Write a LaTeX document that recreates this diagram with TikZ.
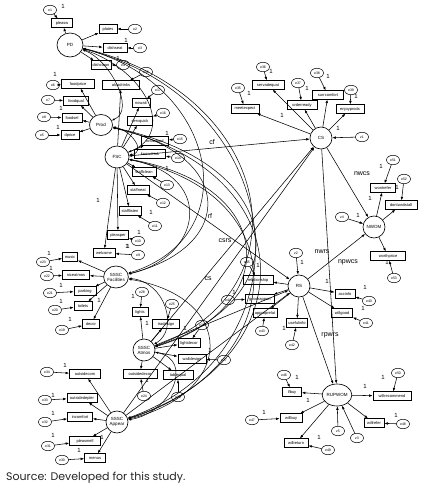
\documentclass[tikz,border=0pt]{standalone}
\usepackage{fontspec}
\setmainfont{Liberation Sans}
\newfontfamily\srcfont{Poppins}
\usetikzlibrary{shapes.geometric,arrows.meta}
\tikzset{
 ind/.style={draw, rectangle, line width=0.7pt, minimum height=8.5, inner xsep=1.2pt, inner ysep=0.5pt, font=\fontsize{4}{4}\selectfont},
 err/.style={draw, ellipse, line width=0.5pt, minimum width=13, minimum height=9.5, inner sep=0pt, font=\fontsize{3.5}{3.5}\selectfont},
 lat/.style={draw, ellipse, line width=0.65pt, minimum width=24, minimum height=22, inner sep=0pt, align=center, font=\fontsize{4.5}{5}\selectfont},
 ar/.style={-{Latex[length=3.5pt,width=2.6pt]}, line width=0.55pt},
 cov/.style={{Latex[length=3pt,width=2.3pt]}-{Latex[length=3pt,width=2.3pt]}, line width=0.5pt},
 onel/.style={font=\fontsize{6}{6}\selectfont, inner sep=0pt},
 pl/.style={font=\fontsize{7}{7}\selectfont, inner sep=0pt},
}
\newcommand\bx[5]{\node[ind,minimum width=#4] (#1) at (#2,#3) {#5};}
\newcommand\er[4]{\node[err] (#1) at (#2,#3) {#4};}
\newcommand\onelab[3]{\node[onel] (#1) at (#2,#3) {1};}
\begin{document}
\begin{tikzpicture}[x=1pt,y=-1pt]
\fill[white] (0,0) rectangle (423,492);
\useasboundingbox (0,0) rectangle (423,492);

% ---------- latent variables
\node[lat,minimum width=26,minimum height=24] (PD) at (70,45) {PD};
\node[lat,minimum width=23,minimum height=21] (Prod) at (101,125) {Prod};
\node[lat] (FSC) at (117,157) {FSC};
\node[lat] (Fac) at (116,277) {SSSC\\Facilities};
\node[lat,minimum width=22] (Atmos) at (144,350) {SSSC\\Atmos};
\node[lat,minimum width=22] (Appear) at (117,422) {SSSC\\Appear};
\node[lat,minimum width=22] (CS) at (321,138) {CS};
\node[lat,minimum width=22] (NWOM) at (374,227) {NWOM};
\node[lat,minimum width=22] (RS) at (299,286) {RS};
\node[lat,minimum width=22] (RUP) at (337,395) {RUPWOM};

% ---------- PD
\bx{pleasw}{62}{23}{21}{pleasw}
\bx{plates}{108}{29}{18}{plates}
\bx{dishseat}{115}{48}{24}{dishseat}
\bx{dishclean}{101}{65}{20}{dishclean}
\er{e1}{50}{10}{e1}
\er{e2}{135}{29}{e2}
\er{e3}{140}{48}{e3}
\er{e4}{123}{65}{e4}
% ---------- Prod
\bx{foodprice}{78}{84}{33}{foodprice}
\bx{foodqual}{76}{101}{25}{foodqual}
\bx{foodsel}{72}{118}{20}{foodsel}
\bx{dprice}{70}{135}{18}{dprice}
\er{e6}{53}{85}{e6}
\er{e7}{48}{100}{e7}
\er{e8}{44}{117}{e8}
\er{e5}{42}{135}{e5}
% ---------- FSC
\bx{alco}{121}{85}{37}{alcodrinks}
\bx{nowait}{141}{103}{18}{nowait}
\bx{servquick}{140}{121}{25}{servquick}
\bx{knowfood}{155}{141}{27}{knowfood}
\bx{knowdrink}{150}{154}{31}{knowdrink}
\bx{staffclean}{144}{172}{24}{staffclean}
\bx{staffneat}{138}{190}{22}{staffneat}
\bx{stafflisten}{130}{211}{22}{stafflisten}
\bx{pleasper}{118}{235}{21}{pleasper}
\bx{welcome}{104}{253}{22}{welcome}
\er{e18}{146}{72}{e18}
\er{e17}{158}{90}{e17}
\er{e16}{163}{113}{e16}
\er{e15}{180}{139}{e15}
\er{e14}{178}{158}{e14}
\er{e13}{167}{185}{e13}
\er{e12}{163}{203}{e12}
\er{e11}{155}{226}{e11}
\er{e10}{138}{241}{e10}
\er{e9}{138}{255}{e9}
% ---------- Facilities
\bx{music}{70}{257}{15}{music}
\bx{niceatmos}{76}{275}{27}{niceatmos}
\bx{parking}{85}{291}{22}{parking}
\bx{toilets}{83}{306}{18}{toilets}
\bx{decor}{91}{324}{17}{decor}
\er{e23}{43}{262}{e23}
\er{e22}{47}{276}{e22}
\er{e21}{50}{293}{e21}
\er{e20}{55}{310}{e20}
\er{e19}{62}{330}{e19}
% ---------- Atmos
\bx{lights}{140}{312}{16}{lights}
\bx{tradesign}{166}{324}{27}{tradesign}
\bx{lightdecor}{189}{343}{22}{lightdecor}
\bx{walldesign}{192}{359}{28}{walldesign}
\bx{tablequal}{178}{375}{30}{tablequal}
\bx{outsidedecor}{140}{374}{34}{outsidedecor}
\er{e28}{142}{292}{e28}
\er{e25}{172}{304}{e25}
\er{e26}{202}{325}{e26}
\er{e27}{224}{360}{e27}
\er{e29}{178}{397}{e29}
\er{e24}{144}{396}{e24}
% ---------- Appear
\bx{outsidecom}{85}{374}{31}{outsidecom}
\bx{outsidedepler}{82}{398}{30}{outsidedepler}
\bx{incomfort}{80}{417}{25}{incomfort}
\bx{pleasmell}{85}{441}{31}{pleasmell}
\bx{menus}{95}{458}{21}{menus}
\er{e34}{47}{372}{e34}
\er{e33}{45}{400}{e33}
\er{e32}{45}{422}{e32}
\er{e31}{48}{446}{e31}
\er{e30}{62}{460}{e30}
% ---------- CS
\bx{meetexpect}{245}{109}{28}{meetexpect}
\bx{servadequat}{268}{85}{32}{servadequat}
\bx{orderready}{302}{105}{30}{orderready}
\bx{surrcomfort}{328}{95}{31}{surrcomfort}
\bx{enjoyprods}{350}{109}{28}{enjoyprods}
\er{e35}{238}{88}{e35}
\er{e36}{263}{67}{e36}
\er{e37}{298}{83}{e37}
\er{e38}{317}{73}{e38}
\er{e39}{351}{90}{e39}
\er{z1}{362}{137}{z1}
% ---------- NWOM
\bx{wontrefer}{383}{188}{25}{wontrefer}
\bx{dontwait}{401}{205}{32}{dontwaitstall}
\bx{worthprice}{388}{256}{35}{worthprice}
\er{e51}{393}{160}{e51}
\er{e52}{404}{179}{e52}
\er{e53}{394}{278}{e53}
\er{z4}{342}{217}{z4}
% ---------- RS
\bx{relationship}{258}{280}{30}{relationship}
\bx{goodrapport}{260}{299}{29}{goodrapport}
\bx{approprelat}{265}{313}{24}{approprelat}
\bx{usefulinfo}{297}{323}{21}{usefulinfo}
\bx{accinfo}{345}{294}{20}{accinfo}
\bx{willgood}{342}{313}{21}{willgood}
\er{z2}{296}{253}{z2}
\er{e45}{247}{262}{e45}
\er{e44}{228}{300}{e44}
\er{e43}{262}{331}{e43}
\er{e42}{292}{345}{e42}
\er{e40}{369}{301}{e40}
\er{e41}{366}{323}{e41}
% ---------- RUPWOM
\bx{ifbuy}{292}{392}{19}{ifbuy}
\bx{willbuy}{291}{418}{22}{willbuy}
\bx{willreturn}{296}{443}{24}{willreturn}
\bx{willrefer}{374}{423}{20}{willrefer}
\bx{willrec}{392}{396}{38}{willrecommend}
\er{e46}{284}{375}{e46}
\er{e47}{252}{420}{e47}
\er{e49}{328}{450}{e49}
\er{e48}{403}{424}{e48}
\er{e50}{398}{373}{e50}
\er{z5}{338}{431}{z5}
\er{z3}{357}{438}{z3}

% ---------- loadings
\foreach \b in {pleasw,plates,dishseat,dishclean} \draw[ar] (PD) -- (\b);
\foreach \b in {foodprice,foodqual,foodsel,dprice} \draw[ar] (Prod) -- (\b);
\foreach \b in {alco,nowait,servquick,knowfood,knowdrink,staffclean,staffneat,stafflisten,pleasper,welcome} \draw[ar] (FSC) -- (\b);
\foreach \b in {music,niceatmos,parking,toilets,decor} \draw[ar] (Fac) -- (\b);
\foreach \b in {lights,tradesign,lightdecor,walldesign,tablequal,outsidedecor} \draw[ar] (Atmos) -- (\b);
\foreach \b in {outsidecom,outsidedepler,incomfort,pleasmell,menus} \draw[ar] (Appear) -- (\b);
\foreach \b in {meetexpect,servadequat,orderready,surrcomfort,enjoyprods} \draw[ar] (CS) -- (\b);
\foreach \b in {wontrefer,dontwait,worthprice} \draw[ar] (NWOM) -- (\b);
\foreach \b in {relationship,goodrapport,approprelat,usefulinfo,accinfo,willgood} \draw[ar] (RS) -- (\b);
\foreach \b in {ifbuy,willbuy,willreturn,willrefer,willrec} \draw[ar] (RUP) -- (\b);

% ---------- errors
\foreach \e/\b in {e1/pleasw,e2/plates,e3/dishseat,e4/dishclean,e6/foodprice,e7/foodqual,e8/foodsel,e5/dprice,
 e18/alco,e17/nowait,e16/servquick,e15/knowfood,e14/knowdrink,e13/staffclean,e12/staffneat,e11/stafflisten,e10/pleasper,e9/welcome,
 e23/music,e22/niceatmos,e21/parking,e20/toilets,e19/decor,
 e28/lights,e25/tradesign,e26/lightdecor,e27/walldesign,e29/tablequal,e24/outsidedecor,
 e34/outsidecom,e33/outsidedepler,e32/incomfort,e31/pleasmell,e30/menus,
 e35/meetexpect,e36/servadequat,e37/orderready,e38/surrcomfort,e39/enjoyprods,
 e51/wontrefer,e52/dontwait,e53/worthprice,
 e45/relationship,e44/goodrapport,e43/approprelat,e42/usefulinfo,e40/accinfo,e41/willgood,
 e46/ifbuy,e47/willbuy,e49/willreturn,e48/willrefer,e50/willrec,
 z1/CS,z4/NWOM,z2/RS,z5/RUP,z3/RUP} \draw[ar] (\e) -- (\b);

% ---------- structural paths
\draw[ar] (FSC) -- (CS);
\draw[ar] (FSC) -- (RS);
\draw[ar] (Atmos) -- (CS);
\draw[ar] (Appear) -- (CS);
\draw[ar] (Atmos) -- (RS);
\draw[ar] (Appear) -- (RS);
\draw[ar] (CS) -- (NWOM);
\draw[ar] (CS) -- (RUP);
\draw[ar] (RS) -- (NWOM);
\draw[ar] (RS) -- (RUP);

% ---------- covariances
\draw[cov] (PD) .. controls +(40,15) and +(35,-15) .. (Prod);
\draw[cov] (PD) .. controls +(75,25) and +(60,-25) .. (FSC);
\draw[cov] (Prod) .. controls +(30,5) and +(30,-5) .. (FSC);
\draw[cov] (PD) .. controls +(150,40) and +(130,-40) .. (Fac);
\draw[cov] (Prod) .. controls +(135,30) and +(120,-30) .. (Fac);
\draw[cov] (FSC) .. controls +(100,20) and +(85,-20) .. (Fac);
\draw[cov] (PD) .. controls +(205,50) and +(165,-60) .. (Atmos);
\draw[cov] (Prod) .. controls +(190,40) and +(155,-50) .. (Atmos);
\draw[cov] (FSC) .. controls +(165,30) and +(135,-40) .. (Atmos);
\draw[cov] (Fac) .. controls +(50,5) and +(35,-20) .. (Atmos);
\draw[cov] (PD) .. controls +(225,60) and +(195,-70) .. (Appear);
\draw[cov] (Prod) .. controls +(210,50) and +(185,-60) .. (Appear);
\draw[cov] (FSC) .. controls +(190,40) and +(165,-50) .. (Appear);
\draw[cov] (Fac) .. controls +(120,20) and +(120,-30) .. (Appear);
\draw[cov] (Atmos) .. controls +(50,10) and +(55,-10) .. (Appear);

% ---------- fixed-loading labels
\onelab{o1}{63}{6}
\onelab{o2}{126}{40}
\onelab{o3}{118}{58}
\onelab{o4}{55}{74}
\onelab{o5}{61}{108}
\onelab{o6}{58}{127}
\onelab{o7}{167}{133}
\onelab{o8}{167}{168}
\onelab{o9}{151}{212}
\onelab{o10}{139}{232}
\onelab{o11}{128}{246}
\onelab{o12}{98}{200}
\onelab{o13}{49}{253}
\onelab{o14}{51}{268}
\onelab{o15}{61}{285}
\onelab{o16}{61}{301}
\onelab{o17}{99}{300}
\onelab{o18}{70}{319}
\onelab{o19}{127}{246}
\onelab{o20}{133}{296}
\onelab{o21}{147}{323}
\onelab{o22}{185}{328}
\onelab{o23}{210}{350}
\onelab{o24}{147}{380}
\onelab{o25}{65}{365}
\onelab{o26}{53}{395}
\onelab{o27}{53}{413}
\onelab{o28}{53}{435}
\onelab{o29}{79}{450}
\onelab{o30}{102}{437}
\onelab{o31}{271}{71}
\onelab{o32}{249}{93}
\onelab{o33}{307}{88}
\onelab{o34}{328}{76}
\onelab{o35}{356}{96}
\onelab{o36}{282}{115}
\onelab{o37}{338}{128}
\onelab{o38}{381}{166}
\onelab{o39}{397}{187}
\onelab{o40}{370}{198}
\onelab{o41}{358}{215}
\onelab{o42}{387}{262}
\onelab{o43}{258}{265}
\onelab{o44}{234}{292}
\onelab{o45}{284}{328}
\onelab{o46}{302}{262}
\onelab{o47}{327}{281}
\onelab{o48}{365}{287}
\onelab{o49}{363}{308}
\onelab{o50}{297}{377}
\onelab{o51}{308}{400}
\onelab{o52}{264}{412}
\onelab{o53}{319}{437}
\onelab{o54}{383}{377}
\onelab{o55}{365}{386}
\onelab{o56}{396}{415}

% ---------- path labels
\node[pl] (lcf) at (212,142) {cf};
\node[pl] (lnwcs) at (362,174) {nwcs};
\node[pl] (lnwrs) at (322,252) {nwrs};
\node[pl] (lnpwcs) at (348,262) {npwcs};
\node[pl] (lrpwrs) at (330,335) {rpwrs};
\node[pl] (lcsrs) at (225,241) {csrs};
\node[pl] (lrf) at (210,216) {rf};
\node[pl] (lcs) at (208,279) {cs};

% ---------- source
\node[anchor=west, inner sep=0pt, font=\srcfont\fontsize{11}{12}\selectfont, text=black!85] (src) at (6,478) {Source: Developed for this study.};
\end{tikzpicture}
\end{document}
